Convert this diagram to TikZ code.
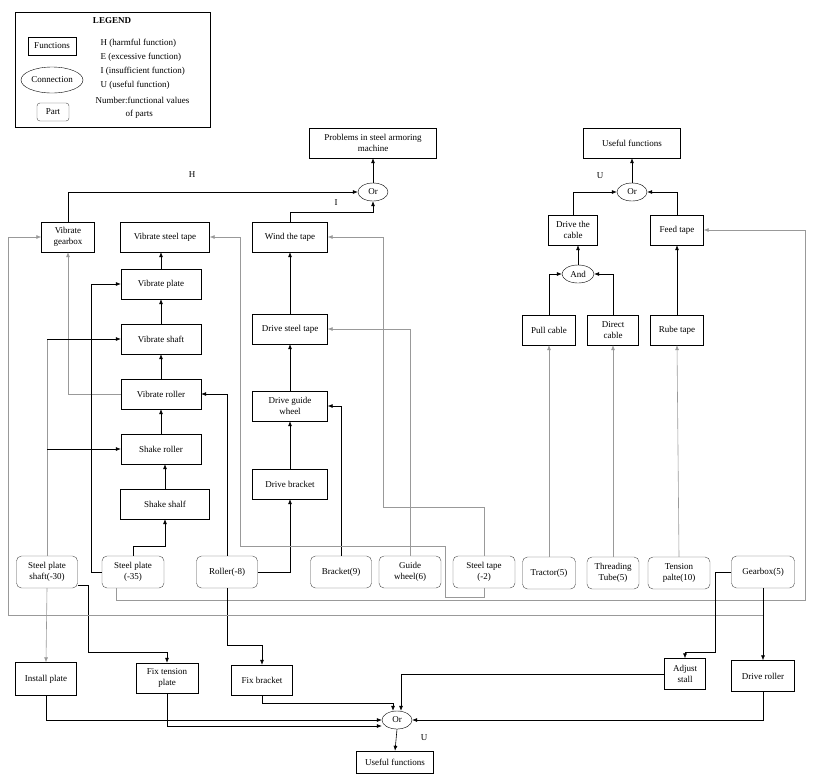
\documentclass[tikz,border=0pt]{standalone}
\usepackage{fontspec}
\setmainfont{Liberation Serif}
\usetikzlibrary{shapes.geometric,arrows.meta}
\begin{document}
\begin{tikzpicture}[x=1pt,y=-1pt,font=\fontsize{9}{10.5}\selectfont,
 fn/.style={draw,align=center,minimum height=30,inner sep=1pt},
 part/.style={draw=gray!60!black,rounded corners=5,align=center,minimum height=32,inner sep=1pt},
 gate/.style={draw,ellipse,minimum width=30,minimum height=18,inner sep=0pt},
 arr/.style={-{Latex[length=5,width=4]},line width=0.6},
 ln/.style={line width=0.6},
 garr/.style={arr,draw=gray!80},
 gln/.style={ln,draw=gray!80}]
\useasboundingbox (0,0) rectangle (816,780);
% legend
\node[draw,minimum width=195,minimum height=115,anchor=north west] (leg) at (15,12) {};
\node[font=\fontsize{9}{10}\selectfont\bfseries] (legt) at (112,21) {LEGEND};
\node[fn,minimum width=48,minimum height=18] (lf) at (52,46) {Functions};
\node[gate,minimum width=62,minimum height=26] (lc) at (52,80) {Connection};
\node[part,minimum width=32,minimum height=18,rounded corners=3] (lp) at (53,112) {Part};
\node[anchor=west] (l1) at (97,43) {H (harmful function)};
\node[anchor=west] (l2) at (97,57) {E (excessive function)};
\node[anchor=west] (l3) at (97,71) {I (insufficient function)};
\node[anchor=west] (l4) at (97,85) {U (useful function)};
\node[anchor=west] (l5) at (92,100) {Number:functional values};
\node[anchor=west] (l6) at (122,114) {of parts};
% top
\node[fn,minimum width=127] (prob) at (373,143) {Problems in steel armoring\\machine};
\node[gate] (or1) at (373,192) {Or};
\node (hl) at (192,175) {H};
\node (il) at (336,203) {I};
\node[fn,minimum width=53] (vgb) at (68,237) {Vibrate\\gearbox};
\node[fn,minimum width=89] (vst) at (165,237) {Vibrate steel tape};
\node[fn,minimum width=75] (wind) at (290,237) {Wind the tape};
\node[fn,minimum width=80] (vpl) at (161,284) {Vibrate plate};
\node[fn,minimum width=80] (vsh) at (161,339) {Vibrate shaft};
\node[fn,minimum width=80] (vrol) at (161,394) {Vibrate roller};
\node[fn,minimum width=80] (shr) at (161,449) {Shake roller};
\node[fn,minimum width=89] (shs) at (165,504) {Shake shalf};
\node[fn,minimum width=75] (dst) at (290,329) {Drive steel tape};
\node[fn,minimum width=75] (dgw) at (290,406) {Drive guide\\wheel};
\node[fn,minimum width=75] (dbr) at (290,484) {Drive bracket};
% right
\node[fn,minimum width=97] (uf) at (632,143) {Useful functions};
\node[gate] (or2) at (632,192) {Or};
\node (ul) at (600,176) {U};
\node[fn,minimum width=49] (dtc) at (573,230) {Drive the\\cable};
\node[fn,minimum width=53] (feed) at (677,230) {Feed tape};
\node[gate,minimum width=32] (and) at (578,274) {And};
\node[fn,minimum width=53] (pc) at (549,330) {Pull cable};
\node[fn,minimum width=51] (dc) at (613,330) {Direct\\cable};
\node[fn,minimum width=53] (rt) at (677,330) {Rube tape};
% parts
\node[part,minimum width=61] (sps) at (47,572) {Steel plate\\shaft(-30)};
\node[part,minimum width=62] (sp) at (133,572) {Steel plate\\(-35)};
\node[part,minimum width=61] (rol) at (227,572) {Roller(-8)};
\node[part,minimum width=61] (br) at (341,572) {Bracket(9)};
\node[part,minimum width=62] (gw) at (410,572) {Guide\\wheel(6)};
\node[part,minimum width=62] (st) at (484,572) {Steel tape\\(-2)};
\node[part,minimum width=53] (tr) at (549,573) {Tractor(5)};
\node[part,minimum width=52] (tt) at (613,573) {Threading\\Tube(5)};
\node[part,minimum width=62] (tp) at (679,573) {Tension\\palte(10)};
\node[part,minimum width=63] (gb) at (763,572) {Gearbox(5)};
% bottom
\node[fn,minimum width=61,minimum height=33] (inst) at (46,679) {Install plate};
\node[fn,minimum width=62] (ftp) at (167,678) {Fix tension\\plate};
\node[fn,minimum width=61] (fbr) at (262,680) {Fix bracket};
\node[fn,minimum width=41,minimum height=31] (adj) at (685,674) {Adjust\\stall};
\node[fn,minimum width=63,minimum height=31] (drr) at (763,676) {Drive roller};
\node[gate] (or3) at (397,720) {Or};
\node (ul2) at (424,738) {U};
\node[fn,minimum width=77,minimum height=22] (ufb) at (395,762) {Useful functions};
% connectors top-left
\draw[arr] (or1.north) -- (prob.south);
\draw[arr] (vgb.north) |- (or1.west);
\draw[arr] (wind.north) -- ++(0,-10) -| (or1.south);
\draw[arr] (shs.north) -- (shs.north|-shr.south);
\draw[arr] (shr.north) -- (vrol.south);
\draw[arr] (vrol.north) -- (vsh.south);
\draw[arr] (vsh.north) -- (vpl.south);
\draw[arr] (vpl.north) -- (vpl.north|-vst.south);
\draw[garr] (vrol.west) -| (vgb.south);
\draw[arr] (dbr.north) -- (dgw.south);
\draw[arr] (dgw.north) -- (dst.south);
\draw[arr] (dst.north) -- (wind.south);
% steel plate shaft
\draw[gln] (sps.north) -- (sps.north|-vsh.west);
\draw[arr] (sps.north|-vsh.west) -- (vsh.west);
\draw[arr] (sps.north|-shr.west) -- (shr.west);
\draw[garr] (sps.south) -- (inst.north);
\draw[arr] ([yshift=-13]sps.east) -| (88,652) -| (ftp.north);
% steel plate
\draw[arr] (sp.west) -- ++(-11,0) |- (vpl.west);
\draw[arr] (sp.north) -- ++(0,-10) -| (shs.south);
\draw[garr] ([xshift=-17]sp.south) |- (805,600) |- (feed.east);
% roller
\draw[arr] (rol.north) |- (vrol.east);
\draw[arr] (rol.east) -| (dbr.south);
\draw[arr] (rol.south) -- ++(0,57) -| (fbr.north);
% gearbox
\draw[garr] (gb.south) |- (8,615) |- (vgb.west);
\draw[arr] (gb.south) -- (drr.north);
\draw[arr] (gb.west) -| (715,652) -| (adj.north);
% bracket, guide wheel, steel tape
\draw[arr] (br.north) |- (dgw.east);
\draw[garr] (gw.north) |- (dst.east);
\draw[garr] (st.north) |- (383,507) |- (wind.east);
\draw[garr] (st.south) |- (445,597) |- (240,546) |- (vst.east);
% right group
\draw[garr] (tr.north) -- (pc.south);
\draw[garr] (tt.north) -- (dc.south);
\draw[garr] (tp.north) -- (rt.south);
\draw[arr] (pc.north) |- (and.west);
\draw[arr] (dc.north) |- (and.east);
\draw[arr] (and.north) -- (and.north|-dtc.south);
\draw[arr] (dtc.north) |- (or2.west);
\draw[arr] (feed.north) |- (or2.east);
\draw[arr] (rt.north) -- (feed.south);
\draw[arr] (or2.north) -- (uf.south);
% bottom
\draw[arr] (inst.south) |- (or3.west);
\draw[arr] (ftp.south) |- ([yshift=-6]or3.west);
\draw[arr] (fbr.south) -- ++(0,8) -| ([xshift=-4]or3.north);
\draw[arr] (adj.west) -| ([xshift=4]or3.north);
\draw[arr] (drr.south) |- (or3.east);
\draw[arr] (or3.south) -- (ufb.north);
\end{tikzpicture}
\end{document}
